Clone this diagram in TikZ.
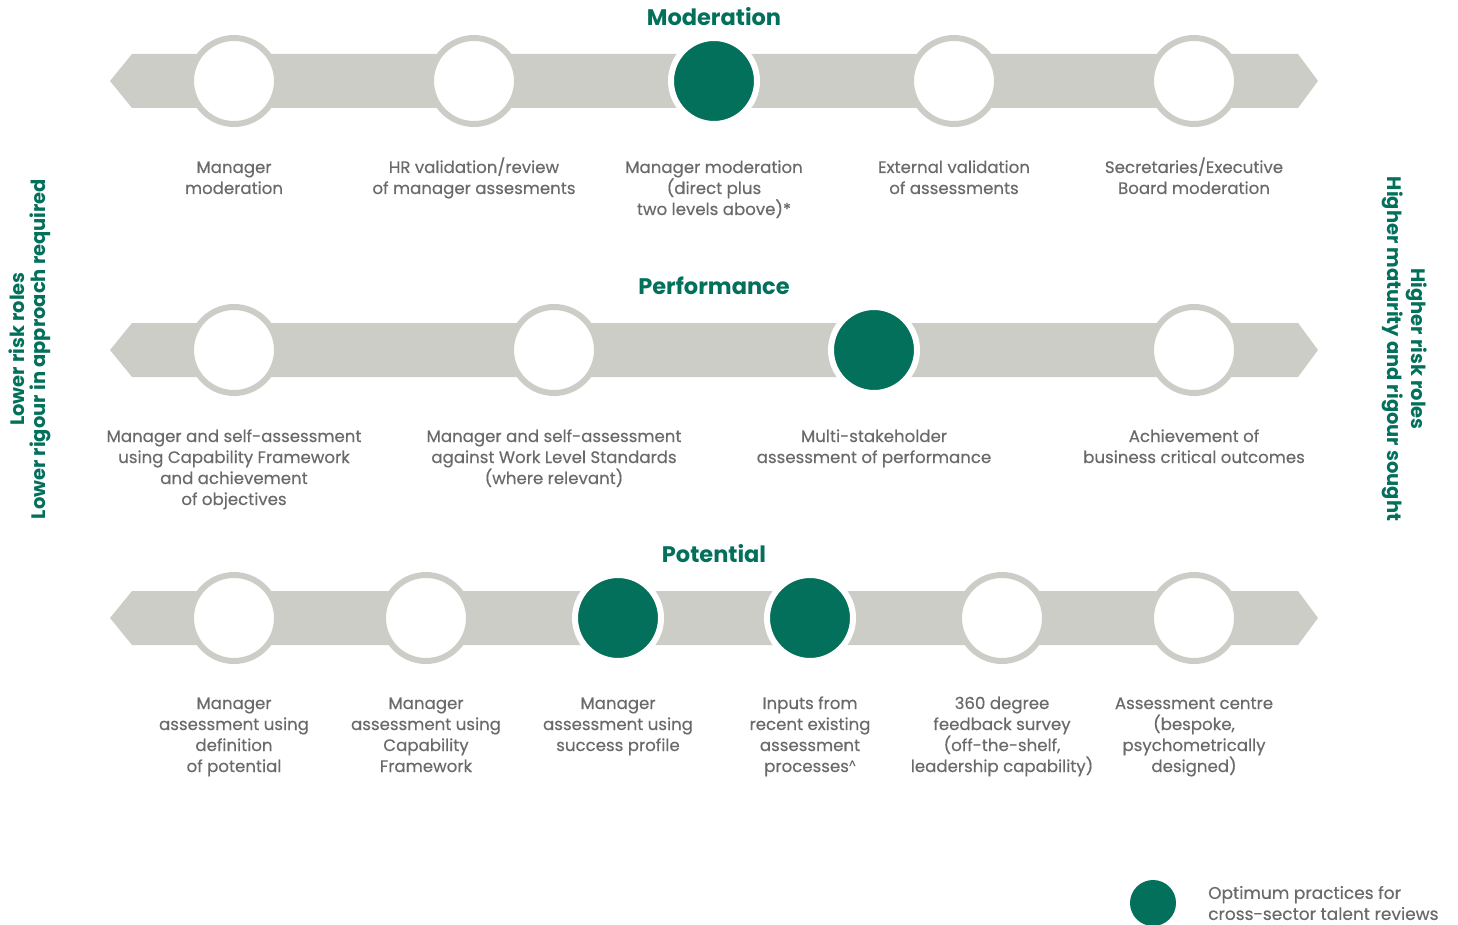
\documentclass[tikz,border=0pt]{standalone}
\usepackage{fontspec}
\setmainfont{Poppins}
\newfontfamily\bodyfont{Poppins}[FakeBold=0.4]
\definecolor{brandgreen}{HTML}{03705B}
\definecolor{bandgray}{HTML}{CDCDC8}
\definecolor{labelgray}{HTML}{6A6A6A}
% centred lines on a fixed 21pt grid; the box baseline is that of the first line
\newcommand\steplines[1]{\vtop{\lineskiplimit=-100pt\baselineskip=21pt\let\\\cr
  \halign{\hfil##\hfil\cr #1\crcr}}}
\newcommand\smallcaret{{\fontsize{11}{11}\selectfont\raisebox{4pt}{\textasciicircum}}}
\begin{document}
\begin{tikzpicture}[x=1pt,y=-1pt,
  band/.style={fill=bandgray, draw=none},
  openstep/.style={circle, draw=bandgray, line width=6pt, fill=white, minimum size=86pt, inner sep=0pt},
  beststep/.style={circle, draw=white, line width=6pt, fill=brandgreen, minimum size=86pt, inner sep=0pt},
  steplabel/.style={anchor=base, inner sep=0pt, text=labelgray,
    font=\bodyfont\fontsize{16.6}{21}\selectfont},
  rowtitle/.style={text=brandgreen, font=\fontsize{22.5}{26}\selectfont\bfseries, inner sep=0pt},
  sidetext/.style={text=brandgreen, font=\fontsize{19.5}{23}\selectfont\bfseries, inner sep=0pt}]
\useasboundingbox (0,0) rectangle (1458,925);

% three horizontal double-headed bands
\foreach \yc in {81,350,618}{
  \fill[band] (110,\yc) -- (132,\yc-27) -- (1298,\yc-27) -- (1318,\yc) -- (1298,\yc+27) -- (132,\yc+27) -- cycle;
}

% Moderation
\node[rowtitle] (tmod) at (714,17) {Moderation};
\node[openstep] (m1) at (234,81) {};
\node[openstep] (m2) at (474,81) {};
\node[beststep] (m3) at (714,81) {};
\node[openstep] (m4) at (954,81) {};
\node[openstep] (m5) at (1194,81) {};
\node[steplabel] (lm1) at (234,173) {\steplines{Manager\\moderation}};
\node[steplabel] (lm2) at (474,173) {\steplines{HR validation/review\\of manager assesments}};
\node[steplabel] (lm3) at (714,173) {\steplines{Manager moderation\\(direct plus\\two levels above)*}};
\node[steplabel] (lm4) at (954,173) {\steplines{External validation\\of assessments}};
\node[steplabel] (lm5) at (1194,173) {\steplines{Secretaries/Executive\\Board moderation}};

% Performance
\node[rowtitle] (tperf) at (714,286) {Performance};
\node[openstep] (p1) at (234,350) {};
\node[openstep] (p2) at (554,350) {};
\node[beststep] (p3) at (874,350) {};
\node[openstep] (p4) at (1194,350) {};
\node[steplabel] (lp1) at (234,442) {\steplines{Manager and self-assessment\\using Capability Framework\\and achievement\\of objectives}};
\node[steplabel] (lp2) at (554,442) {\steplines{Manager and self-assessment\\against Work Level Standards\\(where relevant)}};
\node[steplabel] (lp3) at (874,442) {\steplines{Multi-stakeholder\\assessment of performance}};
\node[steplabel] (lp4) at (1194,442) {\steplines{Achievement of\\business critical outcomes}};

% Potential
\node[rowtitle] (tpot) at (714,554) {Potential};
\node[openstep] (q1) at (234,618) {};
\node[openstep] (q2) at (426,618) {};
\node[beststep] (q3) at (618,618) {};
\node[beststep] (q4) at (810,618) {};
\node[openstep] (q5) at (1002,618) {};
\node[openstep] (q6) at (1194,618) {};
\node[steplabel] (lq1) at (234,709) {\steplines{Manager\\assessment using\\definition\\of potential}};
\node[steplabel] (lq2) at (426,709) {\steplines{Manager\\assessment using\\Capability\\Framework}};
\node[steplabel] (lq3) at (618,709) {\steplines{Manager\\assessment using\\success profile}};
\node[steplabel] (lq4) at (810,709) {\steplines{Inputs from\\recent existing\\assessment\\processes\smallcaret}};
\node[steplabel] (lq5) at (1002,709) {\steplines{360 degree\\feedback survey\\(off-the-shelf,\\leadership capability)}};
\node[steplabel] (lq6) at (1194,709) {\steplines{Assessment centre\\(bespoke,\\psychometrically\\designed)}};

% side captions
\node[sidetext, rotate=90] (lowa) at (17,349) {Lower risk roles};
\node[sidetext, rotate=90] (lowb) at (40,349) {Lower rigour in approach required};
\node[sidetext, rotate=-90] (higha) at (1417,349) {Higher risk roles};
\node[sidetext, rotate=-90] (highb) at (1393,349) {Higher maturity and rigour sought};

% legend
\node[circle, fill=brandgreen, minimum size=46pt, inner sep=0pt] (key) at (1153,903) {};
\node[anchor=west, align=left, inner sep=0pt, text=labelgray,
  font=\bodyfont\fontsize{17}{21}\selectfont] (keytext) at (1208,903) {Optimum practices for\\cross-sector talent reviews};
\end{tikzpicture}
\end{document}
